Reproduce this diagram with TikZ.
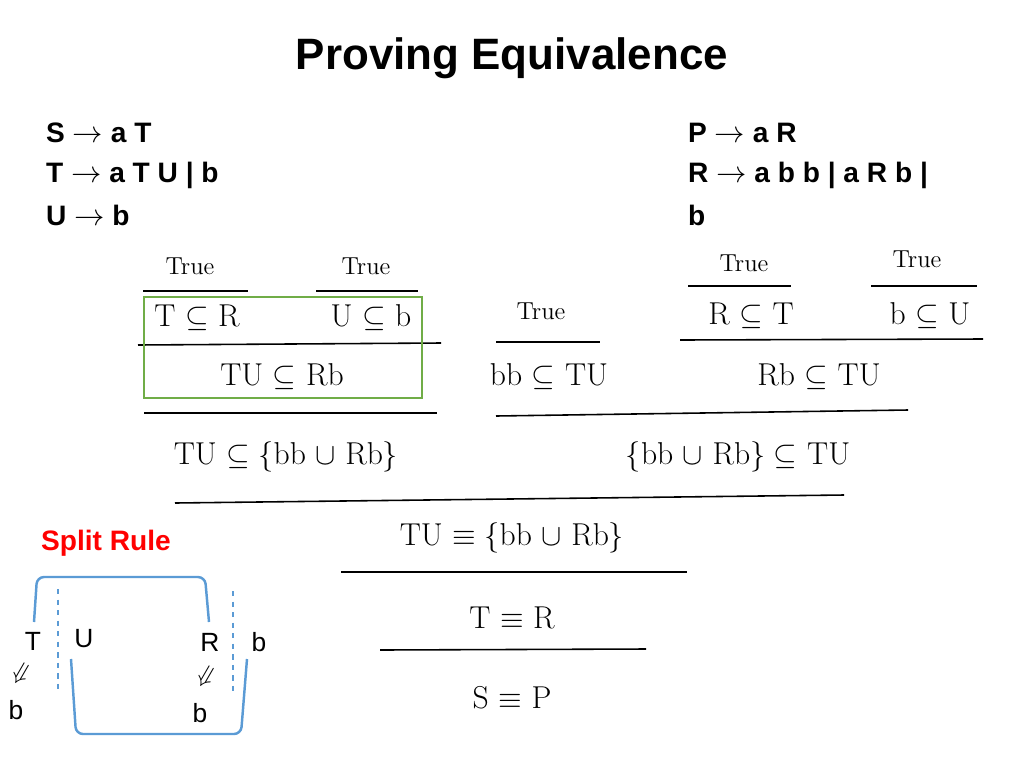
\documentclass[tikz,border=0pt]{standalone}
\usepackage{amssymb}
\usepackage{amsmath}
\usepackage{fontspec}
\setsansfont{Liberation Sans}
\usepackage{tikz}

\definecolor{boxgreen}{RGB}{112,173,71}
\definecolor{splitblue}{RGB}{91,155,213}

\begin{document}
\begin{tikzpicture}[
            x=0.02cm, y=-0.02cm,
            every node/.style={inner sep=1pt}, % plain text nodes
            gram/.style={anchor=west, font=\sffamily\bfseries\fontsize{16}{19}\selectfont},
            judg/.style={font=\fontsize{18}{21}\selectfont},
            truth/.style={font=\fontsize{14}{17}\selectfont},
            small/.style={font=\sffamily\fontsize{15}{18}\selectfont},
            bar/.style={line width=0.9pt}
            ]
        \useasboundingbox (0,0) rectangle (1024,768);

                % Title and grammars
                \node[font=\sffamily\bfseries\fontsize{25}{30}\selectfont] (title) at (512,58) {Proving Equivalence};
                \node[gram] (gs) at (44,133) {S $\rightarrow$ a T};
                \node[gram] (gt) at (44,175) {T $\rightarrow$ a T U | b};
                \node[gram] (gu) at (44,215) {U $\rightarrow$ b};
                \node[gram] (gp) at (686,133) {P $\rightarrow$ a R};
                \node[gram] (gr) at (686,175) {R $\rightarrow$ a b b | a R b |};
                \node[gram] (gb) at (686,215) {b};

                % Top premises
                \node[truth] (t1) at (190,266) {True};
                \node[truth] (t2) at (366,266) {True};
                \node[truth] (t3) at (744,263) {True};
                \node[truth] (t4) at (917,259) {True};
                \node[truth] (t5) at (541,311) {True};
                \draw[bar] (143,291) -- (248,291);
                \draw[bar] (316,291) -- (418,291);
                \draw[bar] (688,286) -- (791,286);
                \draw[bar] (871,286) -- (977,286);
                \draw[bar] (496,342) -- (600,342);

                \node[judg] (tr) at (197,318) {T $\subseteq$ R};
                \node[judg] (ub) at (371,318) {U $\subseteq$ b};
                \node[judg] (rt) at (751,316) {R $\subseteq$ T};
                \node[judg] (bu) at (930,316) {b $\subseteq$ U};
                \draw[bar] (138,345) -- (441,343);
                \draw[bar] (680,340) -- (983,339);

                \node[judg] (turb) at (282,377) {TU $\subseteq$ Rb};
                \node[judg] (bbtu) at (549,377) {bb $\subseteq$ TU};
                \node[judg] (rbtu) at (819,377) {Rb $\subseteq$ TU};
                \draw[boxgreen, line width=0.9pt] (144,297) rectangle (422,398);
                \draw[bar] (144,413) -- (437,413);
                \draw[bar] (496,416) -- (908,410);

                \node[judg] (left) at (286,457) {TU $\subseteq \{$bb $\cup$ Rb$\}$};
                \node[judg] (right) at (738,457) {$\{$bb $\cup$ Rb$\}\subseteq$ TU};
                \draw[bar] (175,503) -- (844,495);

                \node[judg] (equ) at (512,538) {TU $\equiv \{$bb $\cup$ Rb$\}$};
                \draw[bar] (341,572) -- (687,572);
                \node[judg] (teq) at (512,618) {T $\equiv$ R};
                \draw[bar] (380,650) -- (646,649);
                \node[judg] (seq) at (512,698) {S $\equiv$ P};

                % Split rule
                \node[font=\sffamily\bfseries\fontsize{16}{19}\selectfont, text=red] (split) at (106,543) {Split Rule};
                \node[small] (st) at (33,641) {T};
                \node[small] (su) at (84,639) {U};
                \node[small] (sr) at (210,642) {R};
                \node[small] (sb) at (259,642) {b};
                \node[small, rotate=-30] (sa1) at (21,674) {$\Downarrow$};
                \node[small, rotate=-30] (sa2) at (206,677) {$\Downarrow$};
                \node[small] (sb1) at (16,710) {b};
                \node[small] (sb2) at (200,713) {b};
                \draw[splitblue, line width=1.4pt, rounded corners=4pt] (34,622) -- (37,577) -- (205,577) -- (209,622);
                \draw[splitblue, line width=1.4pt, rounded corners=4pt] (71,659) -- (76,734) -- (241,734) -- (247,659);
                \draw[splitblue, line width=1.2pt, dashed] (58,589) -- (58,690);
                \draw[splitblue, line width=1.2pt, dashed] (233,591) -- (233,692);

            \end{tikzpicture}
\end{document}
